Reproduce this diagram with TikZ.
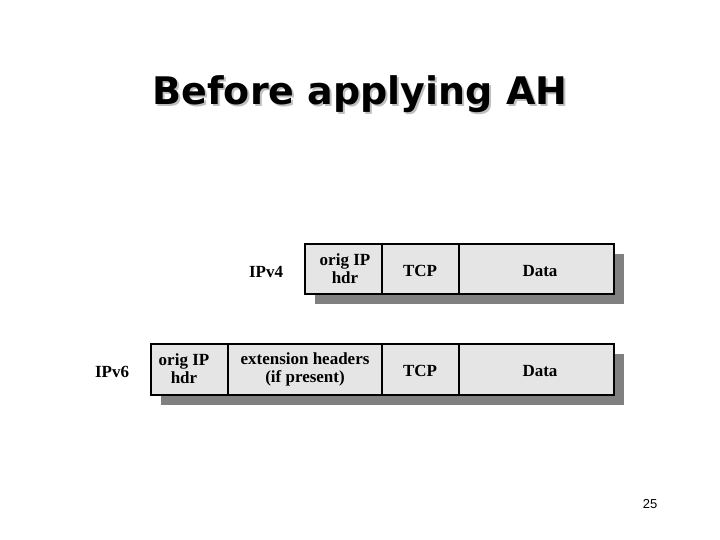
\documentclass[tikz,border=0pt]{standalone}
\usepackage{fontspec}
\setmainfont{Liberation Serif}
\newfontfamily\titlefont{DejaVu Sans}
\newfontfamily\numfont{Liberation Sans}
\begin{document}
\begin{tikzpicture}[x=1pt,y=-1pt,
  cell/.style={draw=black,line width=2.6pt,fill=black!10},
  shad/.style={fill=black!50,draw=none},
  lbl/.style={font=\bfseries\fontsize{17}{18}\selectfont,align=center,inner sep=0pt}]
\useasboundingbox (0,0) rectangle (720,540);
% title
\node (title) [font=\titlefont\bfseries\fontsize{38}{38}\selectfont] at (360,95) {\rlap{\hspace{2pt}\raisebox{-2pt}{\color{black!25}Before applying AH}}Before applying AH};
% IPv4
\fill[shad] (315,254) rectangle (624,304);
\draw[cell] (305,244) rectangle (614,294);
\draw[line width=2.6pt] (382,244) -- (382,294) (459,244) -- (459,294);
\node (v4) [lbl] at (266,272) {IPv4};
\node (v4a) [lbl] at (345,269) {orig IP\\hdr};
\node (v4b) [lbl] at (420,271) {TCP};
\node (v4c) [lbl] at (540,271) {Data};
% IPv6
\fill[shad] (161,354) rectangle (624,405);
\draw[cell] (151,344) rectangle (614,395);
\draw[line width=2.6pt] (228,344) -- (228,395) (382,344) -- (382,395) (459,344) -- (459,395);
\node (v6) [lbl] at (112,372) {IPv6};
\node (v6a) [lbl] at (184,369) {orig IP\\hdr};
\node (v6b) [lbl] at (305,369) {extension headers\\(if present)};
\node (v6c) [lbl] at (420,371) {TCP};
\node (v6d) [lbl] at (540,371) {Data};
\node (num) [font=\numfont\fontsize{13}{13}\selectfont] at (650,504) {25};
\end{tikzpicture}
\end{document}
